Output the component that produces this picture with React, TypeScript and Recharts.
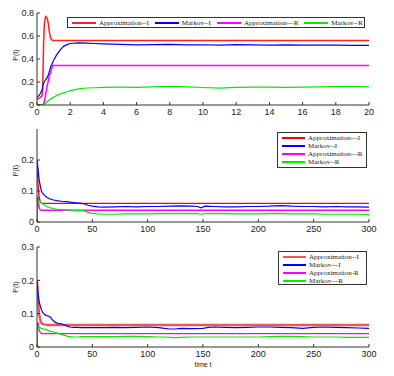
import React from 'react';
import { LineChart, Line, XAxis, YAxis, Legend, Label } from 'recharts';

const KEYS = ['a', 'b', 'c', 'd'];

// ---------- Panel 1 ----------
const p1Names = ['Approximation--I', 'Markov--I', 'Approximation---R', 'Markov--R'];
const p1XTicks = [0, 2, 4, 6, 8, 10, 12, 14, 16, 18, 20];
const p1YTicks = [0, 0.2, 0.4, 0.6, 0.8];
const p1Time = [0, 0.1, 0.2, 0.3, 0.34, 0.4, 0.44, 0.5, 0.54, 0.62, 0.68, 0.74, 0.82, 0.94, 1.0, 1.2, 1.4, 1.6, 1.8, 2.0, 2.5, 3, 3.5, 4, 5, 6, 7, 8, 9, 10, 11, 12, 13, 14, 15, 16, 17, 18, 19, 20];
const p1ApproxI = [0.05, 0.055, 0.065, 0.08, 0.12, 0.55, 0.7, 0.76, 0.77, 0.75, 0.71, 0.64, 0.58, 0.56, 0.56, 0.56, 0.56, 0.56, 0.56, 0.56, 0.56, 0.56, 0.56, 0.56, 0.56, 0.56, 0.56, 0.56, 0.56, 0.56, 0.56, 0.56, 0.56, 0.56, 0.56, 0.56, 0.56, 0.56, 0.56, 0.56];
const p1MarkovI = [0.065, 0.08, 0.1, 0.13, 0.16, 0.19, 0.2, 0.215, 0.225, 0.24, 0.26, 0.29, 0.33, 0.37, 0.39, 0.44, 0.48, 0.51, 0.525, 0.535, 0.541, 0.538, 0.535, 0.532, 0.528, 0.522, 0.525, 0.527, 0.522, 0.524, 0.52, 0.525, 0.523, 0.52, 0.522, 0.52, 0.521, 0.52, 0.519, 0.518];
const p1ApproxR = [0, 0, 0, 0, 0, 0.01, 0.03, 0.07, 0.11, 0.17, 0.21, 0.25, 0.29, 0.343, 0.343, 0.343, 0.343, 0.343, 0.343, 0.343, 0.343, 0.343, 0.343, 0.343, 0.343, 0.343, 0.343, 0.343, 0.343, 0.343, 0.343, 0.343, 0.343, 0.343, 0.343, 0.343, 0.343, 0.343, 0.343, 0.343];
const p1MarkovR = [0, 0, 0.002, 0.004, 0.005, 0.008, 0.01, 0.013, 0.017, 0.028, 0.037, 0.044, 0.052, 0.062, 0.068, 0.085, 0.097, 0.105, 0.115, 0.125, 0.14, 0.148, 0.15, 0.153, 0.155, 0.154, 0.158, 0.162, 0.158, 0.152, 0.147, 0.153, 0.156, 0.155, 0.154, 0.156, 0.157, 0.159, 0.163, 0.158];

// ---------- Panel 2 ----------
const p2Names = ['Approximation---I', 'Markov--I', 'Approximation---R', 'Markov--R'];
const p2XTicks = [0, 50, 100, 150, 200, 250, 300];
const p2YTicks = [0, 0.1, 0.2];
const p2Time = [0, 0.5, 1, 1.5, 2, 3, 4, 5, 7, 9, 12, 15, 18, 22, 26, 30, 35, 40, 43, 46, 50, 55, 60, 70, 80, 90, 100, 110, 120, 130, 140, 145, 148, 152, 160, 170, 180, 190, 200, 210, 220, 230, 240, 250, 260, 270, 280, 290, 300];
const p2ApproxI = [0.2, 0.16, 0.12, 0.095, 0.08, 0.065, 0.061, 0.06, 0.06, 0.06, 0.06, 0.06, 0.06, 0.06, 0.06, 0.06, 0.06, 0.06, 0.06, 0.06, 0.06, 0.06, 0.06, 0.06, 0.06, 0.06, 0.06, 0.06, 0.06, 0.06, 0.06, 0.06, 0.06, 0.06, 0.06, 0.06, 0.06, 0.06, 0.06, 0.06, 0.06, 0.06, 0.06, 0.06, 0.06, 0.06, 0.06, 0.06, 0.06];
const p2MarkovI = [0.2, 0.185, 0.17, 0.15, 0.135, 0.115, 0.1, 0.093, 0.085, 0.079, 0.074, 0.071, 0.069, 0.067, 0.066, 0.064, 0.062, 0.06, 0.058, 0.054, 0.051, 0.049, 0.048, 0.049, 0.05, 0.049, 0.05, 0.05, 0.051, 0.052, 0.051, 0.05, 0.046, 0.051, 0.05, 0.049, 0.049, 0.05, 0.05, 0.051, 0.053, 0.051, 0.05, 0.05, 0.049, 0.05, 0.049, 0.049, 0.048];
const p2ApproxR = [0, 0.08, 0.078, 0.06, 0.045, 0.039, 0.038, 0.038, 0.038, 0.038, 0.038, 0.038, 0.038, 0.038, 0.038, 0.038, 0.038, 0.038, 0.038, 0.038, 0.038, 0.038, 0.038, 0.038, 0.038, 0.038, 0.038, 0.038, 0.038, 0.038, 0.038, 0.038, 0.038, 0.038, 0.038, 0.038, 0.038, 0.038, 0.038, 0.038, 0.038, 0.038, 0.038, 0.038, 0.038, 0.038, 0.038, 0.038, 0.038];
const p2MarkovR = [0, 0.05, 0.068, 0.07, 0.069, 0.066, 0.062, 0.059, 0.054, 0.05, 0.046, 0.043, 0.041, 0.04, 0.039, 0.038, 0.037, 0.037, 0.035, 0.031, 0.028, 0.026, 0.025, 0.025, 0.026, 0.026, 0.026, 0.027, 0.027, 0.028, 0.027, 0.027, 0.025, 0.027, 0.027, 0.027, 0.026, 0.026, 0.026, 0.027, 0.027, 0.026, 0.026, 0.026, 0.025, 0.025, 0.025, 0.025, 0.024];

// ---------- Panel 3 ----------
const p3Names = ['Approximation--I', 'Markov---I', 'Approximation-R', 'Markov---R'];
const p3XTicks = [0, 50, 100, 150, 200, 250, 300];
const p3YTicks = [0, 0.1, 0.2, 0.3];
const p3Time = [0, 0.5, 1, 1.5, 2, 3, 4, 5, 6, 8, 10, 12, 13, 15, 17, 19, 22, 25, 28, 30, 33, 36, 40, 50, 60, 70, 80, 90, 100, 110, 115, 120, 125, 130, 140, 150, 155, 160, 170, 180, 190, 200, 210, 220, 230, 240, 250, 260, 270, 280, 290, 300];
const p3ApproxI = [0.2, 0.17, 0.14, 0.115, 0.097, 0.08, 0.072, 0.069, 0.068, 0.067, 0.066, 0.066, 0.066, 0.066, 0.066, 0.066, 0.066, 0.066, 0.066, 0.066, 0.066, 0.066, 0.066, 0.066, 0.066, 0.066, 0.066, 0.066, 0.066, 0.066, 0.066, 0.066, 0.066, 0.066, 0.066, 0.066, 0.066, 0.066, 0.066, 0.066, 0.066, 0.066, 0.066, 0.066, 0.066, 0.066, 0.066, 0.066, 0.066, 0.066, 0.066, 0.066];
const p3MarkovI = [0.2, 0.18, 0.16, 0.145, 0.135, 0.123, 0.112, 0.105, 0.1, 0.095, 0.093, 0.09, 0.085, 0.078, 0.073, 0.071, 0.069, 0.066, 0.062, 0.06, 0.059, 0.059, 0.058, 0.058, 0.058, 0.059, 0.058, 0.059, 0.06, 0.058, 0.056, 0.054, 0.054, 0.056, 0.055, 0.056, 0.059, 0.06, 0.059, 0.058, 0.059, 0.06, 0.06, 0.059, 0.058, 0.056, 0.059, 0.06, 0.059, 0.058, 0.057, 0.056];
const p3ApproxR = [0, 0.07, 0.072, 0.06, 0.05, 0.043, 0.041, 0.04, 0.04, 0.04, 0.04, 0.04, 0.04, 0.04, 0.04, 0.04, 0.04, 0.04, 0.04, 0.04, 0.04, 0.04, 0.04, 0.04, 0.04, 0.04, 0.04, 0.04, 0.04, 0.04, 0.04, 0.04, 0.04, 0.04, 0.04, 0.04, 0.04, 0.04, 0.04, 0.04, 0.04, 0.04, 0.04, 0.04, 0.04, 0.04, 0.04, 0.04, 0.04, 0.04, 0.04, 0.04];
const p3MarkovR = [0, 0.045, 0.06, 0.062, 0.06, 0.058, 0.056, 0.055, 0.054, 0.052, 0.05, 0.047, 0.046, 0.045, 0.043, 0.041, 0.038, 0.035, 0.032, 0.031, 0.03, 0.03, 0.031, 0.031, 0.031, 0.031, 0.032, 0.032, 0.031, 0.03, 0.03, 0.029, 0.028, 0.029, 0.03, 0.03, 0.03, 0.03, 0.03, 0.03, 0.03, 0.03, 0.031, 0.032, 0.032, 0.031, 0.03, 0.03, 0.03, 0.029, 0.029, 0.029];

const build = (time: number[], a: number[], b: number[], c: number[], d: number[]) =>
  time.map((t, i) => ({ t, a: a[i], b: b[i], c: c[i], d: d[i] }));

const p1Data = build(p1Time, p1ApproxI, p1MarkovI, p1ApproxR, p1MarkovR);
const p2Data = build(p2Time, p2ApproxI, p2MarkovI, p2ApproxR, p2MarkovR);
const p3Data = build(p3Time, p3ApproxI, p3MarkovI, p3ApproxR, p3MarkovR);

const AXIS = '#333';
const TICK_FONT = { fontSize: 9, fill: '#222', fontFamily: '"Liberation Sans", Arial, sans-serif' };
const fmt = (v: number) => (v === 0 ? '0' : String(v));
const SERIF = '"Liberation Serif", "Times New Roman", serif';

function LegendBox({ payload, row, names, rowH }: { payload?: any[]; row: boolean; names: string[]; rowH: number }) {
  const items = [...(payload || [])].sort((x, y) => names.indexOf(x.value) - names.indexOf(y.value));
  const swatch = (color: string, w: number) => (
    <div style={{ width: w, height: 2, background: color, flex: 'none' }} />
  );
  if (row) {
    return (
      <div style={{ border: `1px solid ${AXIS}`, background: '#fff', height: 11, display: 'flex', alignItems: 'center', paddingLeft: 4, boxSizing: 'border-box', width: '100%' }}>
        {items.map((p, i) => (
          <div key={i} style={{ display: 'flex', alignItems: 'center', marginRight: 6 }}>
            {swatch(p.color, 24)}
            <span style={{ marginLeft: 3, fontSize: 7, fontFamily: SERIF, color: '#222', lineHeight: '8px', whiteSpace: 'nowrap' }}>{p.value}</span>
          </div>
        ))}
      </div>
    );
  }
  return (
    <div style={{ border: `1px solid ${AXIS}`, background: '#fff', padding: '1px 0 0 4px', boxSizing: 'border-box', width: '100%', height: '100%' }}>
      {items.map((p, i) => (
        <div key={i} style={{ display: 'flex', alignItems: 'center', height: rowH }}>
          {swatch(p.color, 23)}
          <span style={{ marginLeft: 3, fontSize: 7, fontFamily: SERIF, color: '#222', lineHeight: '7px', whiteSpace: 'nowrap' }}>{p.value}</span>
        </div>
      ))}
    </div>
  );
}

type PanelProps = {
  top: number;
  height: number;
  data: any[];
  names: string[];
  xDomain: [number, number];
  xTicks: number[];
  yDomain: [number, number];
  yTicks: number[];
  marginTop: number;
  xAxisHeight: number;
  legendRow: boolean;
  legendPos: { left: number; top: number; width: number; height: number };
  ylabelDy: number;
  xlabel?: string;
  widths: number[];
  colors: string[];
};

function Panel(props: PanelProps) {
  const { top, height, data, names, xDomain, xTicks, yDomain, yTicks, marginTop, xAxisHeight, legendRow, legendPos, ylabelDy, xlabel, widths, colors } = props;
  return (
    <div style={{ position: 'absolute', left: 0, top, width: 394, height }}>
      <LineChart width={394} height={height} data={data} margin={{ top: marginTop, right: 25, bottom: 0, left: 0 }}>
        <XAxis xAxisId="b" dataKey="t" type="number" domain={xDomain} ticks={xTicks} allowDataOverflow interval={0}
          orientation="bottom" height={xAxisHeight} tickSize={-3} tickMargin={7} tick={TICK_FONT}
          axisLine={{ stroke: AXIS }} tickLine={{ stroke: AXIS }}>
          {xlabel ? (
            <Label content={(p: any) => {
              const vb = p.viewBox || {};
              return (
                <text x={vb.x + vb.width / 2} y={vb.y + 20} textAnchor="middle" fontSize={7} fill="#222" fontFamily='"Liberation Sans", Arial, sans-serif'>{xlabel}</text>
              );
            }} />
          ) : null}
        </XAxis>
        <XAxis xAxisId="t" dataKey="t" type="number" domain={xDomain} ticks={xTicks} allowDataOverflow interval={0}
          orientation="top" height={0} tickSize={-3} tickFormatter={() => ''}
          axisLine={{ stroke: AXIS }} tickLine={{ stroke: AXIS }} />
        <YAxis yAxisId="l" type="number" domain={yDomain} ticks={yTicks} allowDataOverflow interval={0}
          width={37} tickSize={-3} tickMargin={6} tick={TICK_FONT} tickFormatter={fmt}
          axisLine={{ stroke: AXIS }} tickLine={{ stroke: AXIS }}>
          <Label content={(p: any) => {
            const vb = p.viewBox || {};
            const x = vb.x + 18;
            const y = vb.y + vb.height / 2 + ylabelDy;
            return (
              <text x={x} y={y} transform={`rotate(-90 ${x} ${y})`} textAnchor="middle" fontSize={7} fill="#222" fontFamily='"Liberation Sans", Arial, sans-serif'>P(t)</text>
            );
          }} />
        </YAxis>
        <YAxis yAxisId="r" orientation="right" type="number" domain={yDomain} ticks={yTicks} allowDataOverflow interval={0}
          width={0} tickSize={-3} tickFormatter={() => ''}
          axisLine={{ stroke: AXIS }} tickLine={{ stroke: AXIS }} />
        <Legend layout="horizontal" verticalAlign="middle" align="center"
          wrapperStyle={{ left: legendPos.left, top: legendPos.top, width: legendPos.width, height: legendPos.height }}
          content={(p: any) => <LegendBox payload={p.payload} row={legendRow} names={names} rowH={8} />} />
        {KEYS.map((k, i) => (
          <Line key={k} xAxisId="b" yAxisId="l" dataKey={k} name={names[i]} stroke={colors[i]} strokeWidth={widths[i]}
            dot={false} activeDot={false} isAnimationActive={false} type="linear" />
        ))}
      </LineChart>
    </div>
  );
}

export default function App() {
  return (
    <div style={{ position: 'absolute', left: 0, top: 0, width: 394, height: 376, background: '#fff' }}>
      <Panel top={0} height={120} data={p1Data} names={p1Names} xDomain={[0, 20]} xTicks={p1XTicks}
        yDomain={[0, 0.8]} yTicks={p1YTicks} marginTop={13} xAxisHeight={15} legendRow
        legendPos={{ left: 67, top: 17, width: 298, height: 11 }} ylabelDy={-4} widths={[1.5, 1.2, 1.5, 1.2]}
        colors={['#ff2020', '#0000ff', '#ff00ff', '#00ee00']} />
      <Panel top={120} height={120} data={p2Data} names={p2Names} xDomain={[0, 300]} xTicks={p2XTicks}
        yDomain={[0, 0.3]} yTicks={p2YTicks} marginTop={9} xAxisHeight={18} legendRow={false}
        legendPos={{ left: 277, top: 12, width: 90, height: 36 }} ylabelDy={-5} widths={[1.3, 1.2, 1.5, 1.2]}
        colors={['#ff0000', '#0000ff', '#ff00ff', '#00ee00']} />
      <Panel top={240} height={136} data={p3Data} names={p3Names} xDomain={[0, 300]} xTicks={p3XTicks}
        yDomain={[0, 0.3]} yTicks={p3YTicks} marginTop={7} xAxisHeight={29} legendRow={false}
        legendPos={{ left: 278, top: 11, width: 89, height: 34 }} ylabelDy={-10} xlabel="time t" widths={[2.4, 1.2, 1.3, 1.2]}
        colors={['#f25555', '#0000ff', '#ff00ff', '#00ee00']} />
    </div>
  );
}
